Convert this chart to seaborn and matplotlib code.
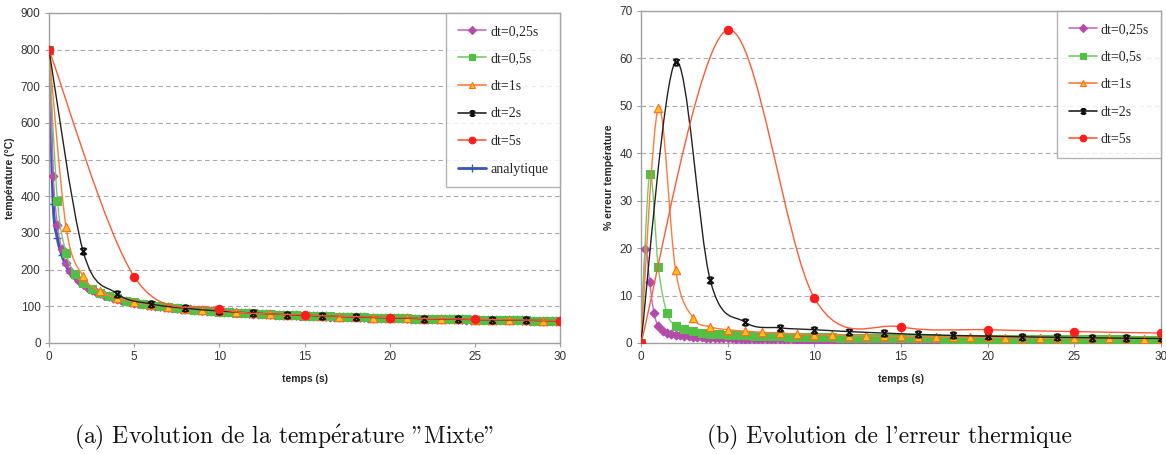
import matplotlib
matplotlib.use("Agg")
import matplotlib.pyplot as plt
import numpy as np
import pandas as pd
import seaborn as sns
from matplotlib.path import Path
from matplotlib.patches import PathPatch
from matplotlib.lines import Line2D

sns.set_theme(style="white")
plt.rcParams['font.family'] = ['Liberation Sans', 'DejaVu Sans']
plt.rcParams['mathtext.fontset'] = 'cm'

# time grids (s)
t_025 = np.arange(0, 30.001, 0.25)
t_05 = np.arange(0, 30.001, 0.5)
t_1 = np.arange(0, 30.001, 1.0)
t_2 = np.arange(0, 30.001, 2.0)
t_5 = np.arange(0, 30.001, 5.0)

# analytical temperature (°C), one value every 0.25 s
T_analytique = [
    800.0, 380.0, 285.0, 241.0, 212.0, 192.0, 178.0, 167.0, 157.5, 150.0,
    143.6, 138.2, 133.4, 129.2, 125.4, 122.0, 119.0, 116.2, 113.7, 111.3,
    109.2, 107.2, 105.3, 103.6, 101.9, 100.4, 99.0, 97.6, 96.3, 95.1,
    93.9, 92.8, 91.8, 90.8, 89.8, 88.9, 88.0, 87.2, 86.3, 85.6,
    84.8, 84.1, 83.4, 82.7, 82.1, 81.5, 80.8, 80.3, 79.7, 79.1,
    78.6, 78.1, 77.6, 77.1, 76.6, 76.2, 75.7, 75.3, 74.8, 74.4,
    74.0, 73.6, 73.2, 72.9, 72.5, 72.1, 71.8, 71.4, 71.1, 70.8,
    70.5, 70.1, 69.8, 69.5, 69.2, 69.0, 68.7, 68.4, 68.1, 67.9,
    67.6, 67.3, 67.1, 66.8, 66.6, 66.3, 66.1, 65.9, 65.7, 65.4,
    65.2, 65.0, 64.8, 64.6, 64.4, 64.2, 64.0, 63.8, 63.6, 63.4,
    63.2, 63.0, 62.8, 62.7, 62.5, 62.3, 62.1, 62.0, 61.8, 61.6,
    61.5, 61.3, 61.2, 61.0, 60.8, 60.7, 60.5, 60.4, 60.2, 60.1,
    60.0,
]

# % temperature error for each time step
err_025 = [
    0.0, 19.8, 12.8, 6.3, 3.5, 2.6, 2.2, 1.9, 1.7, 1.6,
    1.5, 1.4, 1.3, 1.25, 1.2, 1.15, 1.1, 1.07, 1.04, 1.01,
    0.98, 0.96, 0.94, 0.92, 0.90, 0.88, 0.86, 0.85, 0.83, 0.82,
    0.80, 0.79, 0.78, 0.77, 0.75, 0.74, 0.73, 0.72, 0.71, 0.70,
    0.70, 0.69, 0.68, 0.67, 0.66, 0.66, 0.65, 0.64, 0.64, 0.63,
    0.62, 0.62, 0.61, 0.60, 0.60, 0.59, 0.59, 0.58, 0.58, 0.57,
    0.57, 0.56, 0.56, 0.55, 0.55, 0.55, 0.54, 0.54, 0.53, 0.53,
    0.53, 0.52, 0.52, 0.51, 0.51, 0.51, 0.50, 0.50, 0.50, 0.50,
    0.49, 0.49, 0.49, 0.48, 0.48, 0.48, 0.47, 0.47, 0.47, 0.47,
    0.46, 0.46, 0.46, 0.46, 0.45, 0.45, 0.45, 0.45, 0.44, 0.44,
    0.44, 0.44, 0.44, 0.43, 0.43, 0.43, 0.43, 0.43, 0.42, 0.42,
    0.42, 0.42, 0.42, 0.41, 0.41, 0.41, 0.41, 0.41, 0.41, 0.40,
    0.40,
]
err_05 = [
    0.0, 35.7, 16.0, 6.3, 3.6, 2.9, 2.5, 2.2, 2.0, 1.85,
    1.75, 1.66, 1.59, 1.53, 1.47, 1.42, 1.38, 1.34, 1.30, 1.27,
    1.23, 1.20, 1.18, 1.15, 1.13, 1.10, 1.08, 1.06, 1.04, 1.02,
    1.01, 0.99, 0.98, 0.96, 0.95, 0.93, 0.92, 0.91, 0.89, 0.88,
    0.87, 0.86, 0.85, 0.84, 0.83, 0.82, 0.81, 0.80, 0.80, 0.79,
    0.78, 0.77, 0.76, 0.76, 0.75, 0.74, 0.74, 0.73, 0.72, 0.72,
    0.71,
]
err_1 = [
    0.0, 49.5, 15.3, 5.3, 3.4, 2.8, 2.5, 2.25, 2.05, 1.9,
    1.75, 1.65, 1.57, 1.50, 1.44, 1.38, 1.33, 1.28, 1.24, 1.20,
    1.16, 1.13, 1.10, 1.07, 1.05, 1.02, 1.00, 0.98, 0.96, 0.94,
    0.92,
]
err_2 = [0.0, 59.3, 13.2, 4.4, 3.2, 2.8, 2.4, 2.1, 1.8, 1.6, 1.45, 1.3, 1.2, 1.1, 1.0, 0.95]
err_5 = [0.0, 66.0, 9.5, 3.4, 2.8, 2.4, 2.1]

labels = ['dt=0,25s', 'dt=0,5s', 'dt=1s', 'dt=2s', 'dt=5s']
times = [t_025, t_05, t_1, t_2, t_5]
errors = [err_025, err_05, err_1, err_2, err_5]

# Excel-like "star" marker: an x closed by bars top and bottom
M, L = Path.MOVETO, Path.LINETO
star = Path([(-1, -1), (1, 1), (-1, 1), (1, -1), (-0.6, 1), (0.6, 1), (-0.6, -1), (0.6, -1)],
            [M, L, M, L, M, L, M, L])

# styles: line colour, marker, marker face, marker edge
styles = [
    dict(line='#c46cc0', marker='D', face='#b44aaa', edge='#b44aaa', ms=4.5, mew=0.8),
    dict(line='#74cc66', marker='s', face='#52bf45', edge='#52bf45', ms=5.5, mew=0.8),
    dict(line='#ff7a3c', marker='^', face='#ffc21a', edge='#ff6a20', ms=6, mew=0.8),
    dict(line='#222222', marker=star, face='none', edge='#111111', ms=4.6, mew=1.4),
    dict(line='#ff5a33', marker='o', face='#ff1c1c', edge='#ff1c1c', ms=6, mew=0.8),
]
blue = '#3a56b4'

# numerical temperatures rebuilt from the analytical curve and the % error
ana = pd.Series(T_analytique, index=np.round(t_025, 2))
temps_num = [ana.loc[np.round(t, 2)].values * (1 + np.array(e) / 100) for t, e in zip(times, errors)]


def smooth_line(ax, x, y, color, lw, z):
    # Excel-like smoothed line through the data points (Catmull-Rom bezier)
    pts = np.column_stack([x, y])
    n = len(pts)
    verts = [pts[0]]
    codes = [Path.MOVETO]
    for i in range(n - 1):
        p0 = pts[i - 1] if i > 0 else pts[i]
        p1, p2 = pts[i], pts[i + 1]
        p3 = pts[i + 2] if i + 2 < n else pts[i + 1]
        verts += [p1 + (p2 - p0) / 6, p2 - (p3 - p1) / 6, p2]
        codes += [Path.CURVE4] * 3
    ax.add_patch(PathPatch(Path(verts, codes), fill=False, edgecolor=color, lw=lw, zorder=z))


def draw_markers(ax, x, y, st, z):
    df = pd.DataFrame({'t': x, 'v': y})
    sns.scatterplot(data=df, x='t', y='v', ax=ax, marker=st['marker'], s=st['ms'] ** 2,
                    color=st['edge'] if st['face'] == 'none' else st['face'],
                    edgecolor=st['edge'], linewidth=st.get('mew', 0.8), zorder=z, legend=False)


def style_axes(ax, ymax, ystep, ylabel):
    ax.set_xlim(0, 30)
    ax.set_ylim(0, ymax)
    ax.set_xticks(np.arange(0, 31, 5))
    ax.set_yticks(np.arange(0, ymax + 1, ystep))
    ax.yaxis.grid(True, linestyle=(0, (4, 3)), color='#a8a8a8', lw=0.8)
    ax.set_axisbelow(True)
    for sp in ax.spines.values():
        sp.set_color('#a0a0a0')
        sp.set_linewidth(1.0)
    ax.tick_params(axis='both', labelsize=8.5, colors='#333333', length=3, width=0.8,
                   direction='out', left=True, bottom=True, pad=3)
    ax.tick_params(axis='both', color='#a0a0a0')
    ax.set_xlabel('temps (s)', fontsize=7.5, fontweight='bold', labelpad=8)
    ax.set_ylabel(ylabel, fontsize=7.5, fontweight='bold', labelpad=4)


fig = plt.figure(figsize=(11.66, 4.54), dpi=100)
ax1 = fig.add_axes([0.042, 0.2445, 0.4383, 0.727])
ax2 = fig.add_axes([0.5497, 0.2445, 0.446, 0.7313])

# left panel: temperature
t_ana = np.asarray(t_025)
smooth_line(ax1, t_ana, T_analytique, blue, 2.2, 2)
draw_markers(ax1, t_ana, T_analytique, dict(marker='+', face=blue, edge=blue, ms=6, mew=1.0), 2.5)
for k, (t, T, st) in enumerate(zip(times, temps_num, styles)):
    smooth_line(ax1, t, T, st['line'], 1.0, 3 + k)
    draw_markers(ax1, t, T, st, 3.5 + k)
style_axes(ax1, 900, 100, 'température (°C)')

# right panel: % error
for k, (t, e, st) in enumerate(zip(times, errors, styles)):
    smooth_line(ax2, t, e, st['line'], 1.0, 3 + k)
    draw_markers(ax2, t, e, st, 3.5 + k)
style_axes(ax2, 70, 10, '% erreur température')


def legend_handles(with_ana):
    hs = [Line2D([], [], color=st['line'], lw=1.2, marker=st['marker'], markersize=st['ms'] * 0.8,
                 markerfacecolor=st['face'], markeredgecolor=st['edge'], markeredgewidth=st['mew'],
                 label=lab)
          for st, lab in zip(styles, labels)]
    if with_ana:
        hs.append(Line2D([], [], color=blue, lw=2, marker='+', markersize=6, label='analytique'))
    return hs


for ax, with_ana in [(ax1, True), (ax2, False)]:
    leg = ax.legend(handles=legend_handles(with_ana), loc='upper right', bbox_to_anchor=(1, 1),
                    borderaxespad=0, frameon=True, fancybox=False, handlelength=2.0,
                    handletextpad=0.3, labelspacing=1.05, borderpad=0.85,
                    prop={'family': 'Liberation Serif', 'size': 10})
    leg.get_frame().set_edgecolor('#a0a0a0')
    leg.get_frame().set_linewidth(1.0)
    leg.set_zorder(20)

# captions in Computer Modern (cmr10 puts the closing quotes on " and ')
cap = dict(fontsize=17, family=['cmr10', 'DejaVu Serif'], ha='center', va='center', color='#111111')
fig.text(0.244, 0.037, '(a) Evolution de la temp$\\mathrm{\\acute{e}}$rature "Mixte"', **cap)
fig.text(0.763, 0.037, "(b) Evolution de l'erreur thermique", **cap)

fig.savefig('out.png', dpi=100)
